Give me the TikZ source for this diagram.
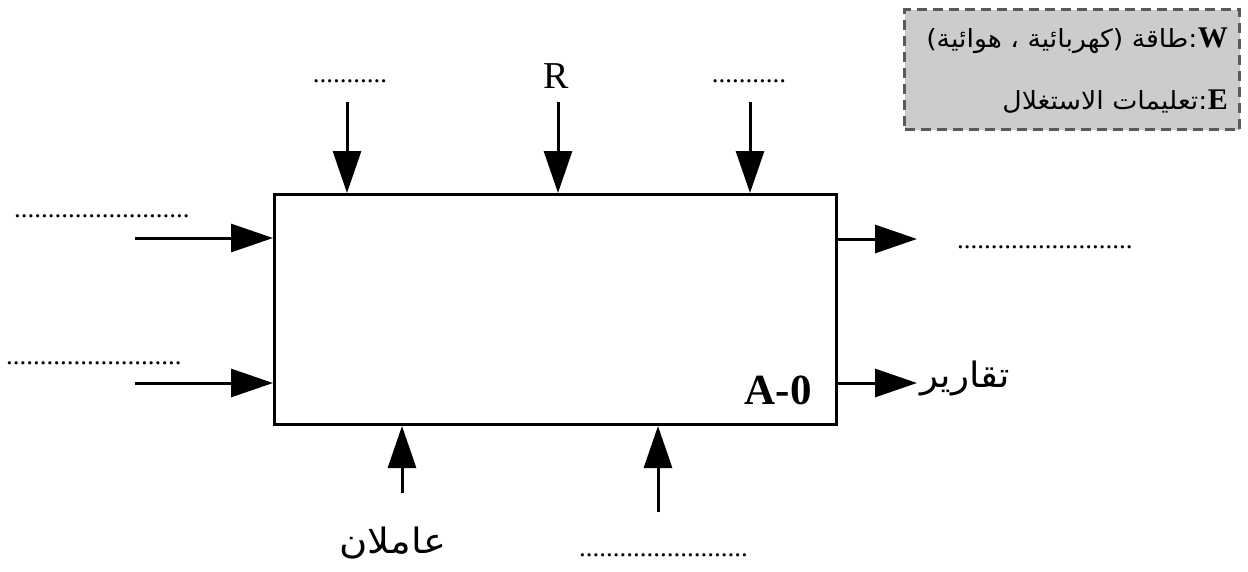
\documentclass[tikz,border=0pt]{standalone}
\usepackage{fontspec}
\setmainfont{Liberation Serif}
\newfontfamily\arabicfont[Script=Arabic]{DejaVu Sans}
\TeXXeTstate=1
\usetikzlibrary{arrows.meta}
\tikzset{
  flow/.style={line width=3pt,-{Triangle[length=42pt,width=28pt]}},
  dots/.style={inner sep=0pt,font=\fontsize{27}{30}\selectfont},
  lbl/.style={inner sep=0pt,font=\fontsize{38}{40}\selectfont},
  ar/.style={inner sep=0pt,font=\arabicfont\fontsize{25}{28}\selectfont},
  arbig/.style={inner sep=0pt,font=\arabicfont\fontsize{35}{37}\selectfont},
  key/.style={inner sep=0pt,font=\bfseries\fontsize{30}{32}\selectfont},
}
\begin{document}
\begin{tikzpicture}[x=1pt,y=-1pt]
\useasboundingbox (0,0) rectangle (1248,571);
% main box
\node[draw,line width=3pt,minimum width=562pt,minimum height=230pt,anchor=north west,inner sep=0pt] (box) at (273,193) {};
\node[inner sep=0pt,font=\bfseries\fontsize{43}{46}\selectfont,anchor=base east] (a0) at (812,404) {A-0};
% top
\coordinate (t1) at (347,102);
\coordinate (t2) at (558,102);
\coordinate (t3) at (750,102);
\draw[flow] (t1) -- (t1 |- box.north);
\draw[flow] (t2) -- (t2 |- box.north);
\draw[flow] (t3) -- (t3 |- box.north);
\node[dots,anchor=base] (d1) at (350,82) {...........};
\node[lbl,anchor=base] (r) at (556,88) {R};
\node[dots,anchor=base] (d2) at (749,82) {...........};
% left
\coordinate (l1) at (135,238);
\coordinate (l2) at (135,383);
\draw[flow] (l1) -- (l1 -| box.west);
\draw[flow] (l2) -- (l2 -| box.west);
\node[dots,anchor=base west] (d3) at (14,217) {..........................};
\node[dots,anchor=base west] (d4) at (6,364) {..........................};
% right
\coordinate (r1) at (917,239);
\coordinate (r2) at (917,383);
\draw[flow] (r1 -| box.east) -- (r1);
\draw[flow] (r2 -| box.east) -- (r2);
\node[dots,anchor=base west] (d5) at (957,248) {..........................};
\node[arbig,anchor=base west,xscale=1.07] (rep) at (920,387) {\beginR تقارير\endR};
% bottom
\coordinate (b1) at (402,493);
\coordinate (b2) at (658,512);
\draw[flow] (b1) -- (b1 |- box.south);
\draw[flow] (b2) -- (b2 |- box.south);
\node[arbig,anchor=base,xscale=1.1] (wk) at (393,553) {\beginR عاملان\endR};
\node[dots,anchor=base west] (d6) at (579,556) {.........................};
% legend
\node[draw=black!65,dashed,dash pattern=on 10pt off 6pt,line width=3pt,fill=black!20,minimum width=335pt,minimum height=120pt,anchor=north west,inner sep=0pt] (leg) at (903,8) {};
\node[key,anchor=base east] (w) at (1228,47) {W};
\node[ar,anchor=base east,xscale=1.07] (wt) at (w.base west) {\beginR :طاقة (كهربائية ، هوائية)\endR};
\node[key,anchor=base east] (e) at (1228,109) {E};
\node[ar,anchor=base east,xscale=1.07] (et) at (e.base west) {\beginR :تعليمات الاستغلال\endR};
\end{tikzpicture}
\end{document}
